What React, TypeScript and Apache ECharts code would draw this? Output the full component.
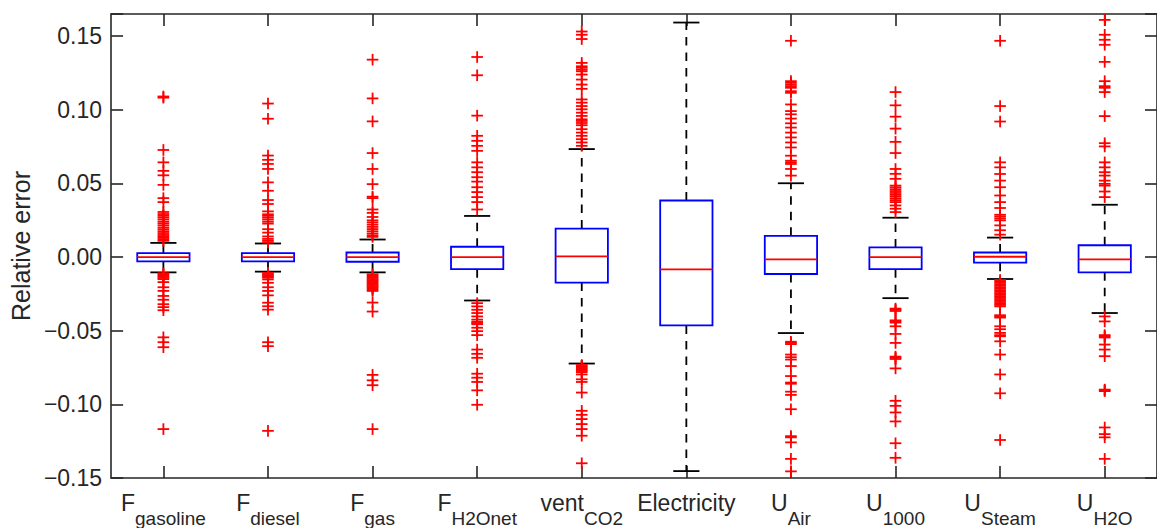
import React, { useEffect, useRef } from "react";
import * as echarts from "echarts";

// ---------- data ----------
const labelMain = ["F", "F", "F", "F", "vent", "Electricity", "U", "U", "U", "U"];
const labelSub = ["gasoline", "diesel", "gas", "H2Onet", "CO2", "", "Air", "1000", "Steam", "H2O"];
const categories = labelMain.map((m, i) => m + labelSub[i]);

const q1 = [-0.003, -0.003, -0.0032, -0.0082, -0.0173, -0.0464, -0.0115, -0.0082, -0.0038, -0.0104];
const median = [0, 0, 0, 0, 0.0004, -0.0084, -0.0016, 0, 0.0002, -0.0016];
const q3 = [0.0027, 0.0027, 0.0031, 0.007, 0.0193, 0.0384, 0.0144, 0.0065, 0.0031, 0.008];
const whiskerLow = [-0.0104, -0.0099, -0.0104, -0.0295, -0.0723, -0.1453, -0.0516, -0.0279, -0.0149, -0.038];
const whiskerHigh = [0.0096, 0.0092, 0.0119, 0.0279, 0.0733, 0.1592, 0.0501, 0.0267, 0.0132, 0.0355];

const outGasoline = [0.109, 0.1082, 0.0727, 0.0643, 0.0585, 0.0555, 0.049, 0.04, 0.0373, 0.0306, 0.0292, 0.028, 0.0268, 0.0255, 0.024, 0.0228, 0.0215, 0.02, 0.0188, 0.0175, 0.0163, 0.015, 0.014, 0.013, 0.012, 0.011, -0.011, -0.0118, -0.0126, -0.0134, -0.0142, -0.015, -0.017, -0.0205, -0.023, -0.0264, -0.029, -0.032, -0.034, -0.0361, -0.0545, -0.0578, -0.0612, -0.1168];
const outDiesel = [0.1042, 0.0939, 0.0689, 0.066, 0.0632, 0.0598, 0.0507, 0.045, 0.0387, 0.036, 0.031, 0.029, 0.028, 0.0268, 0.0255, 0.024, 0.0227, 0.0189, 0.0166, 0.014, 0.0123, 0.011, 0.0099, -0.0107, -0.0115, -0.0123, -0.0131, -0.014, -0.0152, -0.0175, -0.0205, -0.023, -0.026, -0.031, -0.0334, -0.0357, -0.0578, -0.0605, -0.118];
const outGas = [0.134, 0.1077, 0.0921, 0.0706, 0.0598, 0.0495, 0.041, 0.04, 0.0323, 0.03, 0.0272, 0.0249, 0.0235, 0.022, 0.0205, 0.019, 0.0175, 0.016, 0.0147, 0.0137, -0.0117, -0.0125, -0.0133, -0.0141, -0.0149, -0.0157, -0.0165, -0.0173, -0.0181, -0.0189, -0.0197, -0.0205, -0.0213, -0.0222, -0.023, -0.0309, -0.037, -0.08, -0.0837, -0.087, -0.1168];
const outH2Onet = [0.1358, 0.1234, 0.096, 0.0823, 0.0789, 0.0755, 0.0721, 0.0643, 0.0609, 0.0576, 0.0542, 0.0512, 0.0474, 0.0441, 0.0407, 0.0373, 0.0323, -0.0313, -0.0335, -0.0358, -0.038, -0.0403, -0.0425, -0.044, -0.0448, -0.0456, -0.048, -0.0503, -0.053, -0.0628, -0.0657, -0.0684, -0.0792, -0.0819, -0.0848, -0.0905, -0.1003];
const outCO2 = [0.1531, 0.1509, 0.148, 0.1318, 0.1295, 0.1285, 0.1272, 0.1261, 0.1239, 0.1205, 0.1171, 0.1142, 0.107, 0.1048, 0.1025, 0.1003, 0.098, 0.0958, 0.0935, 0.0924, 0.091, 0.0895, 0.0868, 0.0845, 0.0823, 0.08, 0.0778, 0.0755, -0.0733, -0.0741, -0.0749, -0.0757, -0.0765, -0.0773, -0.0781, -0.0797, -0.083, -0.0848, -0.092, -0.1044, -0.1071, -0.11, -0.1134, -0.1168, -0.1213, -0.14];
const outElectricity: number[] = [];
const outAir = [0.1468, 0.1194, 0.1183, 0.1171, 0.116, 0.1149, 0.1126, 0.1115, 0.1036, 0.0991, 0.0969, 0.094, 0.0908, 0.0879, 0.0845, 0.0812, 0.0778, 0.0744, 0.0688, 0.0654, 0.0643, 0.0632, 0.0598, 0.0553, -0.0575, -0.0583, -0.0591, -0.0662, -0.068, -0.0696, -0.074, -0.0808, -0.0852, -0.086, -0.0914, -0.0936, -0.1033, -0.1216, -0.1224, -0.1258, -0.137, -0.1455];
const outU1000 = [0.112, 0.103, 0.0953, 0.0872, 0.0782, 0.0706, 0.0598, 0.0565, 0.0531, 0.0485, 0.0473, 0.046, 0.0448, 0.0435, 0.0422, 0.041, 0.0397, 0.0385, 0.0373, 0.035, 0.0328, 0.0305, -0.035, -0.0358, -0.0366, -0.043, -0.0437, -0.0445, -0.047, -0.0522, -0.0583, -0.0676, -0.0684, -0.0692, -0.0756, -0.0976, -0.101, -0.1055, -0.1116, -0.1264, -0.1363];
const outSteam = [0.1468, 0.1025, 0.092, 0.0643, 0.0609, 0.0564, 0.0519, 0.0474, 0.0418, 0.0373, 0.0333, 0.0287, 0.0275, 0.0262, 0.0249, 0.0215, 0.0182, 0.0152, -0.0156, -0.0165, -0.0175, -0.0185, -0.0195, -0.0205, -0.0215, -0.0225, -0.0235, -0.0245, -0.0255, -0.0265, -0.0275, -0.0285, -0.0295, -0.0305, -0.0315, -0.0325, -0.0335, -0.0395, -0.0403, -0.0411, -0.047, -0.049, -0.0515, -0.053, -0.0538, -0.0572, -0.0662, -0.0797, -0.0925, -0.1242];
const outH2O = [0.161, 0.1509, 0.1475, 0.1441, 0.1325, 0.1194, 0.116, 0.1149, 0.112, 0.0957, 0.0773, 0.0751, 0.0643, 0.0609, 0.0576, 0.0553, 0.0519, 0.0497, 0.0485, 0.0445, 0.0407, -0.0403, -0.0437, -0.053, -0.0538, -0.0546, -0.0594, -0.0628, -0.0673, -0.09, -0.0905, -0.091, -0.1157, -0.1202, -0.1224, -0.137];
const outliers = [outGasoline, outDiesel, outGas, outH2Onet, outCO2, outElectricity, outAir, outU1000, outSteam, outH2O];

const yMin = -0.15;
const yMax = 0.165;
const yInterval = 0.05;

// ---------- styles ----------
const FONT = "'Liberation Sans', Arial, Helvetica, sans-serif";
const AX = "#262626";

export default function App() {
  const ref = useRef<HTMLDivElement>(null);
  useEffect(() => {
    document.body.style.margin = "0";
    if (!ref.current) return;
    const chart = echarts.init(ref.current, undefined, { renderer: "svg" });

    const boxData = categories.map((_, i) => [i, q1[i], median[i], q3[i], whiskerLow[i], whiskerHigh[i]]);
    const outData: number[][] = [];
    outliers.forEach((arr, i) => arr.forEach((v) => outData.push([i, v])));

    const catLabel = (_v: any, idx: number) =>
      labelSub[idx] ? `{f|${labelMain[idx]}}{s|${labelSub[idx]}}` : `{f|${labelMain[idx]}}`;

    const yFmt = (v: number) => {
      if (Math.abs(v * 20 - Math.round(v * 20)) > 1e-6) return "";
      const s = Math.abs(v).toFixed(2);
      return v < -1e-9 ? "\u2212" + s : s;
    };

    const axisCommon = {
      axisLine: { show: true, onZero: false, lineStyle: { color: AX, width: 1.6 } },
      splitLine: { show: false },
    };

    const option: any = {
      animation: false,
      backgroundColor: "#fff",
      grid: { left: 105, top: 14, right: -10, bottom: 46.5, containLabel: false },
      xAxis: [
        {
          type: "category",
          data: categories,
          position: "bottom",
          ...axisCommon,
          axisTick: { show: true, inside: true, alignWithLabel: true, length: 12, lineStyle: { color: AX, width: 1.6 } },
          axisLabel: {
            show: true,
            interval: 0,
            margin: 13,
            formatter: catLabel,
            rich: {
              f: { fontSize: 23, lineHeight: 37, verticalAlign: "top", color: AX, fontFamily: FONT },
              s: { fontSize: 19, lineHeight: 14, verticalAlign: "bottom", color: AX, fontFamily: FONT },
            },
          },
        },
        {
          type: "category",
          data: categories,
          position: "top",
          ...axisCommon,
          axisTick: { show: true, inside: true, alignWithLabel: true, length: 12, lineStyle: { color: AX, width: 1.6 } },
          axisLabel: { show: false },
        },
      ],
      yAxis: [
        {
          type: "value",
          min: yMin,
          max: yMax,
          interval: yInterval,
          position: "left",
          name: "Relative error",
          nameLocation: "middle",
          nameGap: 68,
          nameTextStyle: { fontSize: 25, color: AX, fontFamily: FONT },
          ...axisCommon,
          axisTick: { show: true, inside: true, length: 12, lineStyle: { color: AX, width: 1.6 } },
          axisLabel: { show: true, margin: 9, fontSize: 23, color: AX, fontFamily: FONT, formatter: yFmt },
        },
        {
          type: "value",
          min: yMin,
          max: yMax,
          interval: yInterval,
          position: "right",
          ...axisCommon,
          axisTick: { show: true, inside: true, length: 12, lineStyle: { color: AX, width: 1.6 } },
          axisLabel: { show: false },
        },
      ],
      series: [
        {
          type: "custom",
          name: "box",
          xAxisIndex: 0,
          yAxisIndex: 0,
          data: boxData,
          encode: { x: 0, y: [1, 2, 3, 4, 5] },
          z: 2,
          renderItem: (_params: any, api: any) => {
            const i = api.value(0);
            const bw = api.size([1, 0])[0];
            const pQ1 = api.coord([i, api.value(1)]);
            const pMed = api.coord([i, api.value(2)]);
            const pQ3 = api.coord([i, api.value(3)]);
            const pLo = api.coord([i, api.value(4)]);
            const pHi = api.coord([i, api.value(5)]);
            const cx = pMed[0];
            const hb = bw * 0.25;
            const hc = bw * 0.125;
            const dash = { stroke: "#000", lineWidth: 1.8, lineDash: [8.5, 7], fill: "none" };
            const solid = { stroke: "#000", lineWidth: 1.8, fill: "none" };
            return {
              type: "group",
              children: [
                { type: "line", shape: { x1: cx, y1: pQ3[1], x2: cx, y2: pHi[1] }, style: dash },
                { type: "line", shape: { x1: cx, y1: pQ1[1], x2: cx, y2: pLo[1] }, style: dash },
                { type: "line", shape: { x1: cx - hc, y1: pHi[1], x2: cx + hc, y2: pHi[1] }, style: solid },
                { type: "line", shape: { x1: cx - hc, y1: pLo[1], x2: cx + hc, y2: pLo[1] }, style: solid },
                {
                  type: "rect",
                  shape: { x: cx - hb, y: pQ3[1], width: 2 * hb, height: pQ1[1] - pQ3[1] },
                  style: { stroke: "#0000FF", lineWidth: 1.8, fill: "none" },
                },
                {
                  type: "line",
                  shape: { x1: cx - hb, y1: pMed[1], x2: cx + hb, y2: pMed[1] },
                  style: { stroke: "#FF0000", lineWidth: 1.8 },
                },
              ],
            };
          },
        },
        {
          type: "custom",
          name: "outliers",
          xAxisIndex: 0,
          yAxisIndex: 0,
          data: outData,
          encode: { x: 0, y: 1 },
          z: 3,
          renderItem: (_params: any, api: any) => {
            const p = api.coord([api.value(0), api.value(1)]);
            const h = 5.8;
            const st = { stroke: "#FF0000", lineWidth: 1.8 };
            return {
              type: "group",
              children: [
                { type: "line", shape: { x1: p[0] - h, y1: p[1], x2: p[0] + h, y2: p[1] }, style: st },
                { type: "line", shape: { x1: p[0], y1: p[1] - h, x2: p[0], y2: p[1] + h }, style: st },
              ],
            };
          },
        },
      ],
    };
    chart.setOption(option);
    return () => chart.dispose();
  }, []);
  return <div ref={ref} style={{ width: 1157, height: 528 }} />;
}
